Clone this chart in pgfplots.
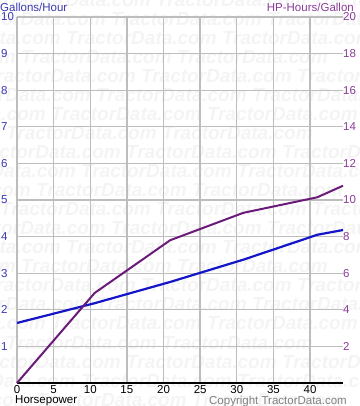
\documentclass[border=0pt]{standalone}
\usepackage{pgfplots}
\pgfplotsset{compat=1.18}
\usepackage{fontspec}
\setmainfont{Liberation Sans}
\definecolor{gphblue}{HTML}{1414C8}
\definecolor{hpgpurple}{HTML}{6A1B7A}
\definecolor{lefttxt}{HTML}{3838B0}
\definecolor{righttxt}{HTML}{8A3C98}
\definecolor{gridgray}{HTML}{BDBDBD}
\definecolor{wmark}{HTML}{F4F4F4}
\begin{document}
\begin{tikzpicture}
\useasboundingbox (-17bp,-23bp) rectangle (343bp,383bp);
% watermark
\foreach \i in {0,...,21}{
  \pgfmathsetmacro{\yy}{376-19*\i}
  \pgfmathsetmacro{\xx}{-17-mod(\i*45,165)}
  \node[anchor=base west, inner sep=0, text=wmark, font=\fontsize{19bp}{19bp}\selectfont\bfseries\itshape] at (\xx bp,\yy bp) {TractorData.com TractorData.com TractorData.com};
}
\begin{axis}[
  at={(0,0)}, anchor=south west,
  scale only axis, width=326bp, height=366bp,
  xmin=0, xmax=44.5, ymin=0, ymax=10,
  axis line style={draw=none},
  xtick={0,5,10,15,20,25,30,35,40},
  xticklabels={0,5,10,15,20,25,30,35,40},
  ytick={1,2,3,4,5,6,7,8,9,10},
  yticklabels={1,2,3,4,5,6,7,8,9,10},
  extra y ticks={0}, extra y tick labels={},
  grid=major,
  grid style={gridgray, line width=1.3bp},
  major tick length=0pt,
  tick style={draw=none},
  ticklabel style={font=\fontsize{11.5bp}{12bp}\selectfont, inner sep=0pt},
  xticklabel style={anchor=north, yshift=-2.5bp, text=black},
  yticklabel style={anchor=west, xshift=-16bp, text=lefttxt},
  clip=false,
]
\addplot[gphblue, line width=2.2bp] coordinates {
  (0,1.64) (10.6,2.18) (20.9,2.76) (30.9,3.37) (41,4.05) (44.5,4.18)
};
\draw[black, line width=2bp] (axis cs:0,0) -- (axis cs:44.5,0);
\end{axis}
\begin{axis}[
  at={(0,0)}, anchor=south west,
  scale only axis, width=326bp, height=366bp,
  xmin=0, xmax=44.5, ymin=0, ymax=20,
  axis line style={draw=none},
  xtick=\empty,
  ytick={2,4,6,8,10,12,14,16,18,20},
  yticklabels={2,4,6,8,10,12,14,16,18,20},
  yticklabel pos=right,
  major tick length=0pt,
  tick style={draw=none},
  ticklabel style={font=\fontsize{11.5bp}{12bp}\selectfont, inner sep=0pt},
  yticklabel style={anchor=west, xshift=0bp, text=righttxt},
  clip=false,
]
\addplot[hpgpurple, line width=2bp] coordinates {
  (0,0) (10.6,4.92) (20.9,7.8) (30.9,9.3) (41,10.15) (44.5,10.78)
};
\end{axis}
\node[anchor=base west, inner sep=0, text=lefttxt, font=\fontsize{11.5bp}{12bp}\selectfont] at (-17bp,371bp) {Gallons/Hour};
\node[anchor=base east, inner sep=0, text=righttxt, font=\fontsize{11.5bp}{12bp}\selectfont] at (337bp,371bp) {HP-Hours/Gallon};
\node[anchor=base west, inner sep=0, text=black, font=\fontsize{11.5bp}{12bp}\selectfont] at (-2bp,-20bp) {Horsepower};
\node[anchor=base east, inner sep=0, text=black!50, font=\fontsize{11.5bp}{12bp}\selectfont] at (330bp,-21bp) {Copyright TractorData.com};
\end{tikzpicture}
\end{document}
